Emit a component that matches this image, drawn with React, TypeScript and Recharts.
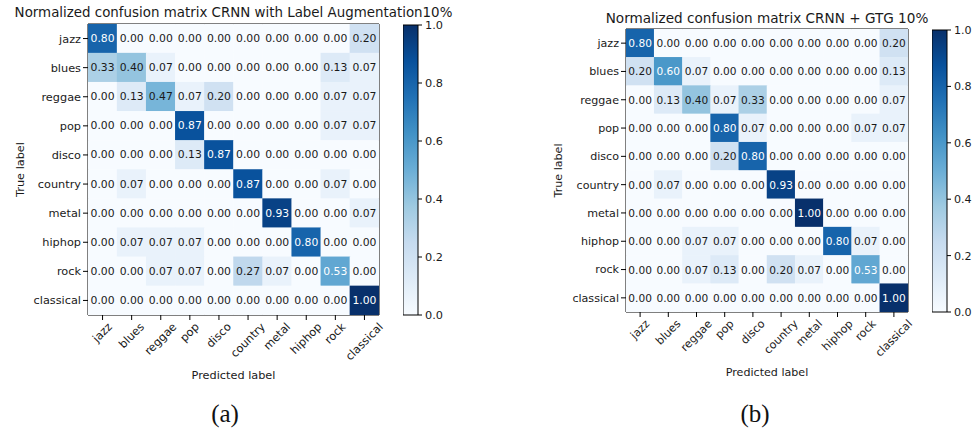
import React from 'react';
import { ScatterChart, Scatter, XAxis, YAxis, ReferenceArea, ComposedChart } from 'recharts';

const CLASSES = ['jazz', 'blues', 'reggae', 'pop', 'disco', 'country', 'metal', 'hiphop', 'rock', 'classical'];

const MATRIX_A = [
  [0.80, 0.00, 0.00, 0.00, 0.00, 0.00, 0.00, 0.00, 0.00, 0.20],
  [0.33, 0.40, 0.07, 0.00, 0.00, 0.00, 0.00, 0.00, 0.13, 0.07],
  [0.00, 0.13, 0.47, 0.07, 0.20, 0.00, 0.00, 0.00, 0.07, 0.07],
  [0.00, 0.00, 0.00, 0.87, 0.00, 0.00, 0.00, 0.00, 0.07, 0.07],
  [0.00, 0.00, 0.00, 0.13, 0.87, 0.00, 0.00, 0.00, 0.00, 0.00],
  [0.00, 0.07, 0.00, 0.00, 0.00, 0.87, 0.00, 0.00, 0.07, 0.00],
  [0.00, 0.00, 0.00, 0.00, 0.00, 0.00, 0.93, 0.00, 0.00, 0.07],
  [0.00, 0.07, 0.07, 0.07, 0.00, 0.00, 0.00, 0.80, 0.00, 0.00],
  [0.00, 0.00, 0.07, 0.07, 0.00, 0.27, 0.07, 0.00, 0.53, 0.00],
  [0.00, 0.00, 0.00, 0.00, 0.00, 0.00, 0.00, 0.00, 0.00, 1.00],
];

const MATRIX_B = [
  [0.80, 0.00, 0.00, 0.00, 0.00, 0.00, 0.00, 0.00, 0.00, 0.20],
  [0.20, 0.60, 0.07, 0.00, 0.00, 0.00, 0.00, 0.00, 0.00, 0.13],
  [0.00, 0.13, 0.40, 0.07, 0.33, 0.00, 0.00, 0.00, 0.00, 0.07],
  [0.00, 0.00, 0.00, 0.80, 0.07, 0.00, 0.00, 0.00, 0.07, 0.07],
  [0.00, 0.00, 0.00, 0.20, 0.80, 0.00, 0.00, 0.00, 0.00, 0.00],
  [0.00, 0.07, 0.00, 0.00, 0.00, 0.93, 0.00, 0.00, 0.00, 0.00],
  [0.00, 0.00, 0.00, 0.00, 0.00, 0.00, 1.00, 0.00, 0.00, 0.00],
  [0.00, 0.00, 0.07, 0.07, 0.00, 0.00, 0.00, 0.80, 0.07, 0.00],
  [0.00, 0.00, 0.07, 0.13, 0.00, 0.20, 0.07, 0.00, 0.53, 0.00],
  [0.00, 0.00, 0.00, 0.00, 0.00, 0.00, 0.00, 0.00, 0.00, 1.00],
];

const COLORBAR_TICKS = [0, 0.2, 0.4, 0.6, 0.8, 1.0];
const TITLE_A = 'Normalized confusion matrix CRNN with Label Augmentation10%';
const TITLE_B = 'Normalized confusion matrix CRNN + GTG 10%';
const CAPTION_A = '(a)';
const CAPTION_B = '(b)';

const FONT = '"DejaVu Sans", sans-serif';
const TEXT = '#1a1a1a';

const BLUES = ['#f7fbff', '#deebf7', '#c6dbef', '#9ecae1', '#6baed6', '#4292c6', '#2171b5', '#08519c', '#08306b'];

function hexToRgb(h: string) {
  return [parseInt(h.slice(1, 3), 16), parseInt(h.slice(3, 5), 16), parseInt(h.slice(5, 7), 16)];
}
function blues(t: number) {
  const c = Math.max(0, Math.min(1, t)) * (BLUES.length - 1);
  const i = Math.min(Math.floor(c), BLUES.length - 2);
  const f = c - i;
  const a = hexToRgb(BLUES[i]);
  const b = hexToRgb(BLUES[i + 1]);
  const r = a.map((v, k) => Math.round(v + (b[k] - v) * f));
  return `rgb(${r[0]},${r[1]},${r[2]})`;
}

const CW: Record<string, number> = {
  a: 0.613, b: 0.635, c: 0.55, d: 0.635, e: 0.615, f: 0.352, g: 0.635, h: 0.634, i: 0.278, j: 0.278,
  k: 0.579, l: 0.278, m: 0.974, n: 0.634, o: 0.612, p: 0.635, q: 0.635, r: 0.411, s: 0.521, t: 0.392,
  u: 0.634, v: 0.592, w: 0.818, x: 0.592, y: 0.592, z: 0.525,
};
function textWidth(s: string, fs: number) {
  let w = 0;
  for (const ch of s) w += CW[ch] ?? 0.6;
  return w * fs;
}

const IDX = CLASSES.map((_, i) => i);

type PanelCfg = { left: number; top: number; w: number; h: number; tickFs: number; cellFs: number };

function XTick(props: any) {
  const { x, y, payload, fs } = props;
  const label = CLASSES[payload.value];
  const w = textWidth(label, fs);
  const h = fs * 1.0;
  const top = y - 1;
  const cy = top + ((w + h) * 0.7071) / 2;
  return (
    <text
      x={x}
      y={cy}
      textAnchor="middle"
      dominantBaseline="central"
      fontSize={fs}
      fontFamily={FONT}
      fill={TEXT}
      transform={`rotate(-45, ${x}, ${cy})`}
    >
      {label}
    </text>
  );
}

function Matrix({ matrix, cfg }: { matrix: number[][]; cfg: PanelCfg }) {
  const yW = 80;
  const xH = 90;
  const data: { x: number; y: number; v: number }[] = [];
  matrix.forEach((row, i) => row.forEach((v, j) => data.push({ x: j, y: i, v })));
  const cw = cfg.w / 10;
  const ch = cfg.h / 10;
  const shape = (p: any) => {
    const { cx, cy, payload } = p;
    const v = payload.v;
    return (
      <g>
        <rect x={cx - cw / 2 - 0.25} y={cy - ch / 2 - 0.25} width={cw + 0.5} height={ch + 0.5} fill={blues(v)} stroke="none" />
        <text
          x={cx}
          y={cy}
          textAnchor="middle"
          dominantBaseline="central"
          fontSize={cfg.cellFs}
          fontFamily={FONT}
          fill={v > 0.5 ? '#ffffff' : TEXT}
        >
          {v.toFixed(2)}
        </text>
      </g>
    );
  };
  return (
    <div style={{ position: 'absolute', left: cfg.left - yW, top: 0 }}>
      <ScatterChart
        width={yW + cfg.w + 8}
        height={cfg.top + cfg.h + xH}
        margin={{ top: cfg.top, right: 8, bottom: 0, left: 0 }}
      >
        <XAxis
          type="number"
          dataKey="x"
          domain={[-0.5, 9.5]}
          ticks={IDX}
          interval={0}
          allowDataOverflow
          height={xH}
          tickSize={5}
          axisLine={false}
          tickLine={{ stroke: '#000' }}
          tick={<XTick fs={cfg.tickFs} />}
          label={{
            value: 'Predicted label',
            position: 'insideBottom',
            offset: 26,
            style: { fontSize: cfg.tickFs, fontFamily: FONT, fill: TEXT },
          }}
        />
        <YAxis
          type="number"
          dataKey="y"
          domain={[-0.5, 9.5]}
          reversed
          ticks={IDX}
          interval={0}
          allowDataOverflow
          width={yW}
          tickSize={5}
          axisLine={false}
          tickLine={{ stroke: '#000' }}
          tickFormatter={(v: number) => CLASSES[v]}
          tick={{ fontSize: cfg.tickFs, fontFamily: FONT, fill: TEXT }}
          label={{
            value: 'True label',
            angle: -90,
            position: 'insideLeft',
            offset: 12,
            style: { fontSize: cfg.tickFs, fontFamily: FONT, fill: TEXT, textAnchor: 'middle' },
          }}
        />
        <Scatter data={data} isAnimationActive={false} shape={shape} />
        <ReferenceArea
          x1={-0.5}
          x2={9.5}
          y1={-0.5}
          y2={9.5}
          fill="none"
          fillOpacity={0}
          stroke="#000"
          strokeWidth={1}
          ifOverflow="visible"
        />
      </ScatterChart>
    </div>
  );
}

type CbCfg = { left: number; top: number; bottom: number; w: number; fs: number; grad: string };

function Colorbar({ cfg }: { cfg: CbCfg }) {
  const yW = 40;
  const h = cfg.bottom + 12;
  return (
    <div style={{ position: 'absolute', left: cfg.left, top: 0 }}>
      <ComposedChart
        width={cfg.w + yW}
        height={h}
        data={[{ x: 0, y: 0 }]}
        margin={{ top: cfg.top, right: 0, bottom: h - cfg.bottom, left: 0 }}
      >
        <XAxis type="number" dataKey="x" domain={[0, 1]} hide height={0} allowDataOverflow />
        <YAxis
          type="number"
          orientation="right"
          domain={[0, 1]}
          ticks={COLORBAR_TICKS}
          interval={0}
          allowDataOverflow
          width={yW}
          tickSize={4}
          tickMargin={3}
          axisLine={false}
          tickLine={{ stroke: '#000' }}
          tickFormatter={(v: number) => v.toFixed(1)}
          tick={{ fontSize: cfg.fs, fontFamily: FONT, fill: TEXT, textAnchor: 'start' }}
        />
        <ReferenceArea
          x1={0}
          x2={1}
          y1={0}
          y2={1}
          fill={`url(#${cfg.grad})`}
          fillOpacity={1}
          stroke="#000"
          strokeWidth={1}
          ifOverflow="visible"
        />
      </ComposedChart>
    </div>
  );
}

const PANEL_A: PanelCfg = { left: 88, top: 24, w: 291, h: 291, tickFs: 11.3, cellFs: 10.8 };
const PANEL_B: PanelCfg = { left: 626, top: 29, w: 282, h: 283, tickFs: 11.1, cellFs: 10.6 };
const CB_A: CbCfg = { left: 403, top: 25, bottom: 315, w: 15, fs: 11.3, grad: 'bluesA' };
const CB_B: CbCfg = { left: 932, top: 30, bottom: 312, w: 15, fs: 11.1, grad: 'bluesB' };

export default function App() {
  // top of bar = darkest (value 1), bottom = lightest (value 0); offsets must increase
  const stops = BLUES.slice()
    .reverse()
    .map((c, i) => <stop key={i} offset={`${(i / (BLUES.length - 1)) * 100}%`} stopColor={c} />);
  return (
    <div style={{ position: 'absolute', left: 0, top: 0, width: 974, height: 432, background: '#fff', overflow: 'hidden' }}>
      <svg width={974} height={432} style={{ position: 'absolute', left: 0, top: 0 }}>
        <defs>
          <linearGradient id="bluesA" x1="0" y1="0" x2="0" y2="1">
            {stops}
          </linearGradient>
          <linearGradient id="bluesB" x1="0" y1="0" x2="0" y2="1">
            {stops}
          </linearGradient>
        </defs>
        <text x={233.5} y={17} textAnchor="middle" fontSize={13.4} fontFamily={FONT} fill={TEXT}>
          {TITLE_A}
        </text>
        <text x={767} y={22.5} textAnchor="middle" fontSize={13.6} fontFamily={FONT} fill={TEXT}>
          {TITLE_B}
        </text>
        <text x={225} y={421.5} textAnchor="middle" fontSize={25} fontFamily={'"Liberation Serif", "DejaVu Serif", serif'} fill="#111">
          {CAPTION_A}
        </text>
        <text x={755} y={421.5} textAnchor="middle" fontSize={25} fontFamily={'"Liberation Serif", "DejaVu Serif", serif'} fill="#111">
          {CAPTION_B}
        </text>
      </svg>
      <Matrix matrix={MATRIX_A} cfg={PANEL_A} />
      <Colorbar cfg={CB_A} />
      <Matrix matrix={MATRIX_B} cfg={PANEL_B} />
      <Colorbar cfg={CB_B} />
    </div>
  );
}
